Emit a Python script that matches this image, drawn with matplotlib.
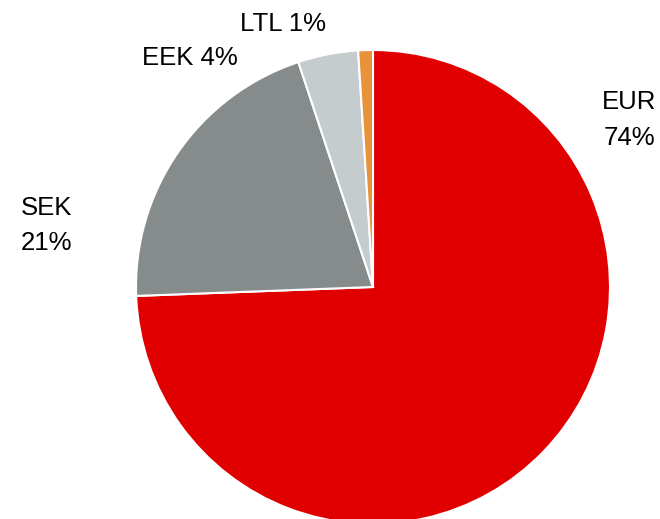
import matplotlib.pyplot as plt

labels = ["EUR", "SEK", "EEK", "LTL"]
shares = [74.4, 20.5, 4.1, 1.0]
pct_text = ["74%", "21%", "4%", "1%"]
colors = ["#E00000", "#868C8C", "#C5CCCE", "#E8923A"]

plt.rcParams['font.family'] = ['Liberation Sans', 'DejaVu Sans']

fig = plt.figure(figsize=(6.6, 5.19), dpi=100)
# pie centre at (373, 287) px, radius 237 px
cx, cy, r = 373, 287, 237
ax = fig.add_axes([(cx - r) / 660, (519 - cy - r) / 519, 2 * r / 660, 2 * r / 519])
ax.pie(shares, colors=colors, startangle=90, counterclock=False,
       wedgeprops=dict(edgecolor="white", linewidth=1.5))
ax.set_xlim(-1, 1)
ax.set_ylim(-1, 1)
ax.set_aspect("equal")
ax.axis("off")

def px(x, y):
    return (x - cx) / r, (cy - y) / r

txt = [f"{labels[0]}\n{pct_text[0]}", f"{labels[1]}\n{pct_text[1]}",
       f"{labels[2]} {pct_text[2]}", f"{labels[3]} {pct_text[3]}"]
pos = [px(629, 120), px(47, 225.5), px(190, 58), px(283, 24)]
spacing = [1.65, 1.55, 1.2, 1.2]
for t, (x, y), ls in zip(txt, pos, spacing):
    ax.text(x, y, t, ha="center", va="center", fontsize=18.5,
            linespacing=ls, color="black")

fig.savefig("out.png", dpi=100)
